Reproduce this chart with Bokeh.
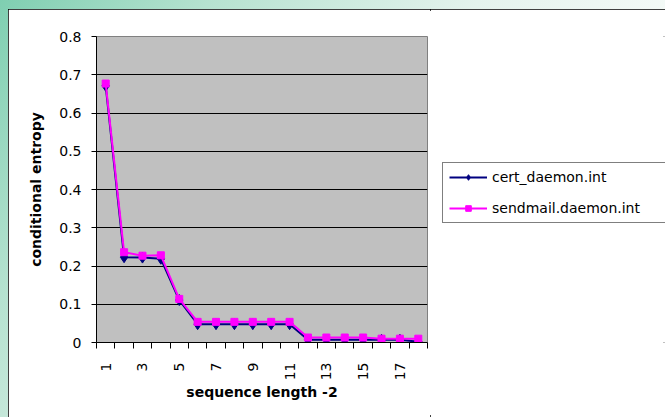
import math
from bokeh.plotting import figure
from bokeh.models import FixedTicker, Legend, LegendItem, Range1d, ColumnDataSource
from bokeh.layouts import column, row
from bokeh.embed import file_html
from bokeh.resources import INLINE

# ---- data ----
seq_len = list(range(1, 19))
cert_daemon = [0.671, 0.223, 0.222, 0.219, 0.111, 0.048, 0.048, 0.048, 0.048,
               0.048, 0.048, 0.007, 0.007, 0.007, 0.007, 0.007, 0.007, 0.002]
sendmail = [0.677, 0.236, 0.227, 0.228, 0.114, 0.054, 0.054, 0.054, 0.054,
            0.054, 0.054, 0.013, 0.013, 0.013, 0.013, 0.010, 0.010, 0.010]
y_ticks = [0, 0.1, 0.2, 0.3, 0.4, 0.5, 0.6, 0.7, 0.8]
x_label_ticks = [1, 3, 5, 7, 9, 11, 13, 15, 17]
series_names = ["cert_daemon.int", "sendmail.daemon.int"]
x_title = "sequence length -2"
y_title = "conditional entropy"

FONT = "DejaVu Sans"
NAVY = "#000080"
MAGENTA = "#ff00ff"

src = ColumnDataSource(dict(x=seq_len, a=cert_daemon, b=sendmail))

# ---- main chart ----
p = figure(width=422, height=408,
           x_range=Range1d(0.5, 18.5), y_range=Range1d(0, 0.8),
           output_backend="svg", toolbar_location=None,
           min_border_left=88, min_border_right=3,
           min_border_top=27, min_border_bottom=75,
           background_fill_color="#c0c0c0", border_fill_color="white",
           outline_line_color="#808080")

p.line("x", "a", source=src, line_color=NAVY, line_width=2)
p.scatter("x", "a", source=src, marker="diamond", size=11,
          fill_color=NAVY, line_color=NAVY)
p.line("x", "b", source=src, line_color=MAGENTA, line_width=2)
p.scatter("x", "b", source=src, marker="square", size=7,
          fill_color=MAGENTA, line_color=MAGENTA)

p.xgrid.visible = False
p.ygrid.ticker = FixedTicker(ticks=y_ticks)
p.ygrid.grid_line_color = "black"
p.ygrid.grid_line_width = 1

ya = p.yaxis[0]
ya.ticker = FixedTicker(ticks=y_ticks)
ya.major_label_overrides = {0: "0"}
ya.major_tick_out = 5
ya.major_tick_in = 0
ya.minor_tick_out = 0
ya.minor_tick_in = 0
ya.axis_line_color = "black"
ya.major_tick_line_color = "black"
ya.major_label_text_font = FONT
ya.major_label_text_font_size = "14px"
ya.major_label_text_color = "black"
ya.major_label_standoff = 10
ya.axis_label = y_title
ya.axis_label_text_font = FONT
ya.axis_label_text_font_style = "bold"
ya.axis_label_text_font_size = "14px"
ya.axis_label_text_color = "black"
ya.axis_label_standoff = 12

xa = p.xaxis[0]
xa.ticker = FixedTicker(ticks=x_label_ticks,
                        minor_ticks=[i + 0.5 for i in range(0, 19)])
xa.major_tick_out = 0
xa.major_tick_in = 0
xa.minor_tick_out = 6
xa.minor_tick_in = 0
xa.minor_tick_line_color = "black"
xa.axis_line_color = "black"
xa.major_label_orientation = math.pi / 2
xa.major_label_text_font = FONT
xa.major_label_text_font_size = "14px"
xa.major_label_text_color = "black"
xa.major_label_standoff = 14
xa.axis_label = x_title
xa.axis_label_text_font = FONT
xa.axis_label_text_font_style = "bold"
xa.axis_label_text_font_size = "14px"
xa.axis_label_text_color = "black"
xa.axis_label_standoff = 1

# ---- legend panel (separate figure so the legend is not clipped) ----
q = figure(width=235, height=408, x_range=Range1d(100, 101), y_range=Range1d(100, 101),
           x_axis_type=None, y_axis_type=None,
           output_backend="svg", toolbar_location=None,
           min_border=0, min_border_left=0, min_border_right=0,
           min_border_top=0, min_border_bottom=0,
           background_fill_color="white", border_fill_color="white",
           outline_line_color=None)
q.xgrid.visible = False
q.ygrid.visible = False
ql1 = q.line("x", "a", source=src, line_color=NAVY, line_width=2)
qs1 = q.scatter("x", "a", source=src, marker="diamond", size=11,
                fill_color=NAVY, line_color=NAVY)
ql2 = q.line("x", "b", source=src, line_color=MAGENTA, line_width=2)
qs2 = q.scatter("x", "b", source=src, marker="square", size=7,
                fill_color=MAGENTA, line_color=MAGENTA)

legend = Legend(items=[LegendItem(label=series_names[0], renderers=[ql1, qs1]),
                       LegendItem(label=series_names[1], renderers=[ql2, qs2])],
                location=(12, 119), orientation="vertical",
                padding=6, margin=0, spacing=15,
                glyph_width=38, glyph_height=14, label_height=14,
                label_width=300, label_standoff=5,
                label_text_font=FONT, label_text_font_size="14px",
                label_text_color="black",
                border_line_color="black", border_line_width=1,
                background_fill_color="white", background_fill_alpha=1)
q.add_layout(legend, "center")

chart = row(p, q, width=657, height=408, margin=(9, 0, 0, 8),
            styles={"outline": "2px solid black", "outline-offset": "-2px",
                    "background": "white"})

layout = column(chart, width=665, height=417,
                styles={"background": "linear-gradient(125deg, #7fcfb1 0%, #b6e2d0 22%, #e4f3ed 50%, #f7fbf9 75%, #ffffff 100%)"})

open("out.html", "w").write(file_html(layout, INLINE))
